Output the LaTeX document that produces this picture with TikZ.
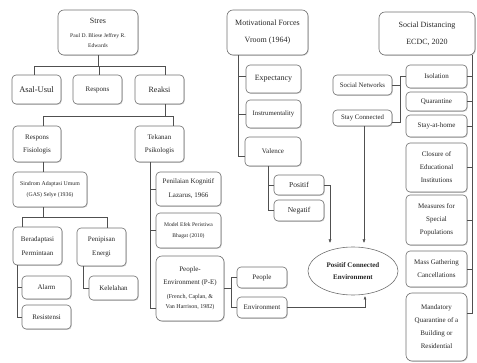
\documentclass[tikz,border=0pt]{standalone}
\usepackage{fontspec}
\setmainfont{Liberation Serif}
\usetikzlibrary{shapes.geometric,arrows.meta,shadows}
\definecolor{bord}{HTML}{707070}
\definecolor{ln}{HTML}{505050}
\definecolor{txt}{HTML}{262626}
\newcommand\fz[2]{\fontsize{#1}{#2}\selectfont}
\newcommand\bxn[7]{\node[bx,#6,minimum width={#4-#2},minimum height={#5-#3}] (#1) at ({(#2+#4)/2},{(#3+#5)/2}) {#7};}
\begin{document}
\begin{tikzpicture}[x=1pt,y=-1pt,
 bx/.style={draw=bord, line width=0.6pt, rounded corners=4pt, fill=white, align=center, inner sep=0pt, text=txt, font=\fz{7}{13},
   drop shadow={shadow xshift=0.8pt, shadow yshift=-0.8pt, opacity=0.35, fill=gray}},
 cn/.style={draw=ln, line width=0.5pt},
 ar/.style={cn, -{Latex[length=3.5pt,width=3pt]}}]
\useasboundingbox (0,0) rectangle (477,363);
% Stres tree
\bxn{stres}{58}{10}{138}{55}{rounded corners=6pt}{{\fz{8}{8}Stres}\\[1pt]{\fz{5.6}{6}Paul D. Bliese Jeffrey R.}\\[-3pt]{\fz{5.6}{6}Edwards}}
\bxn{asal}{12}{75}{61}{104}{font=\fz{8.5}{10}}{Asal-Usul}
\bxn{respons}{73}{75}{122}{104}{font=\fz{7}{10}}{Respons}
\bxn{reaksi}{135}{75}{184}{104}{font=\fz{8}{10}}{Reaksi}
\bxn{rfis}{13}{126}{61}{162}{}{Respons\\Fisiologis}
\bxn{tekanan}{135}{126}{184}{162}{}{Tekanan\\Psikologis}
\bxn{sindrom}{13}{172}{87}{207}{font=\fz{5.8}{11}}{Sindrom Adaptasi Umum\\(GAS) Selye (1936)}
\bxn{beradaptasi}{13}{227}{62}{265}{font=\fz{7}{14}}{Beradaptasi\\Permintaan}
\bxn{penipisan}{77}{228}{126}{266}{font=\fz{7}{14}}{Penipisan\\Energi}
\bxn{alarm}{22}{276}{71}{299}{}{Alarm}
\bxn{resistensi}{22}{305}{71}{329}{}{Resistensi}
\bxn{kelelahan}{89}{276}{138}{300}{}{Kelelahan}
\bxn{penilaian}{156}{172}{221}{206}{font=\fz{7}{14}}{Penilaian Kognitif\\Lazarus, 1966}
\bxn{model}{156}{213}{221}{248}{font=\fz{5.6}{11}}{Model Efek Peristiwa\\Bhagat (2010)}
\bxn{pe}{156}{256}{224}{321}{rounded corners=6pt}{{\fz{7}{7}People-}\\{\fz{7}{7}Environment (P-E)}\\[1pt]{\fz{6}{6}(French, Caplan, \&}\\[-3pt]{\fz{6}{6}Van Harrison, 1982)}}
\bxn{people}{237}{267}{287}{288}{}{People}
\bxn{environment}{237}{297}{287}{318}{}{Environment}
% Motivational
\bxn{motiv}{227}{10}{308}{55}{rounded corners=6pt, font=\fz{8}{17}}{Motivational Forces\\Vroom (1964)}
\bxn{expectancy}{246}{65}{301}{93}{font=\fz{8}{10}}{Expectancy}
\bxn{instrumentality}{246}{100}{301}{128}{font=\fz{6.8}{10}}{Instrumentality}
\bxn{valence}{245}{137}{301}{166}{}{Valence}
\bxn{positif}{274}{175}{324}{195}{font=\fz{7.5}{10}}{Positif}
\bxn{negatif}{274}{200}{324}{221}{font=\fz{7.5}{10}}{Negatif}
% Social distancing
\bxn{socnet}{333}{75}{392}{95}{font=\fz{6.8}{10}}{Social Networks}
\bxn{stay}{333}{110}{392}{126}{font=\fz{6.8}{10}}{Stay Connected}
\bxn{socdist}{379}{12}{475}{55}{rounded corners=6pt, font=\fz{8}{17}}{Social Distancing\\ECDC, 2020}
\bxn{isolation}{406}{65}{467}{88}{}{Isolation}
\bxn{quarantine}{406}{92}{467}{111}{}{Quarantine}
\bxn{stayhome}{406}{115}{467}{137}{}{Stay-at-home}
\bxn{closure}{406}{143}{467}{192}{}{Closure of\\Educational\\Institutions}
\bxn{measures}{406}{195}{467}{245}{}{Measures for\\Special\\Populations}
\bxn{mass}{406}{251}{467}{287}{}{Mass Gathering\\Cancellations}
\bxn{mandatory}{406}{293}{467}{361}{rounded corners=6pt}{Mandatory\\Quarantine of a\\Building or\\Residential}
\node[ellipse, draw=bord, line width=0.6pt, minimum width=90, minimum height=48, inner sep=0pt, align=center, font=\bfseries\fz{7}{12}, text=txt] (ell) at (353,271) {Positif Connected\\Environment};
% connectors: Stres
\draw[cn] (stres.south) -- ++(0,11) coordinate (h1);
\draw[cn] ([xshift=-2.5pt]asal.north) |- (h1);
\draw[cn] ([xshift=5.5pt]reaksi.north) |- (h1);
\coordinate (rn) at ([xshift=1.5pt]respons.north);
\draw[cn] (rn) -- (rn |- h1);
\draw[cn] ([xshift=5.5pt]reaksi.south) -- ++(0,12) coordinate (h2);
\draw[cn] ([xshift=6pt]rfis.north) |- (h2);
\draw[cn] ([xshift=13.5pt]tekanan.north) |- (h2);
\coordinate (r1) at ([xshift=6pt]rfis.south);
\draw[cn] (r1) -- (r1 |- sindrom.north);
\coordinate (s1) at ([xshift=-7pt]sindrom.south);
\draw[cn] (s1) -- ++(0,10) coordinate (h3);
\draw[cn] ([xshift=-15.5pt]beradaptasi.north) |- (h3);
\draw[cn] ([xshift=5.5pt]penipisan.north) |- (h3);
\coordinate (b1) at ([xshift=-20.5pt]beradaptasi.south);
\draw[cn] (b1) |- (resistensi.west);
\draw[cn] (alarm.west) -- (alarm.west -| b1);
\draw[cn] ([xshift=-18.5pt]penipisan.south) |- (kelelahan.west);
\coordinate (t1) at ([xshift=-9.5pt]tekanan.south);
\draw[cn] (t1) |- ([yshift=-19.5pt]pe.west);
\draw[cn] (penilaian.west) -- (penilaian.west -| t1);
\draw[cn] (model.west) -- (model.west -| t1);
\draw[cn] (pe.east) -- ++(7,0) coordinate (p1);
\draw[cn] (people.west) -| (p1 |- environment.west) -- (environment.west);
\coordinate (e1) at (365,296);
\draw[ar] (environment.east) -| (e1);
% Motivational
\coordinate (m1) at ([xshift=-29.5pt]motiv.south);
\draw[cn] (m1) |- ([yshift=-4.5pt]valence.west);
\coordinate (ex) at ([yshift=3pt]expectancy.west);
\draw[cn] (ex) -- (ex -| m1);
\draw[cn] (instrumentality.west) -- (instrumentality.west -| m1);
\coordinate (v1) at ([xshift=-5pt]valence.south);
\draw[cn] (v1) |- (negatif.west);
\draw[cn] (positif.west) -- (positif.west -| v1);
\coordinate (e2) at (330,243);
\draw[ar] (positif.east) -| (e2);
\coordinate (st) at ([xshift=1.5pt]stay.south);
\draw[ar] (st) -- (st |- e2);
% Social
\draw[cn] (socnet.east) -- ++(8,0) coordinate (k1);
\coordinate (s2) at ([yshift=-4pt]stay.east);
\draw[cn] (isolation.west) -| (s2 -| k1) -- (s2);
\coordinate (d1) at ([xshift=45pt]socdist.south);
\draw[cn] (d1) |- ([yshift=14pt]mandatory.east);
\foreach \n in {isolation,quarantine,stayhome,closure,measures,mass}
  \draw[cn] (\n.east) -- (\n.east -| d1);
\end{tikzpicture}
\end{document}
